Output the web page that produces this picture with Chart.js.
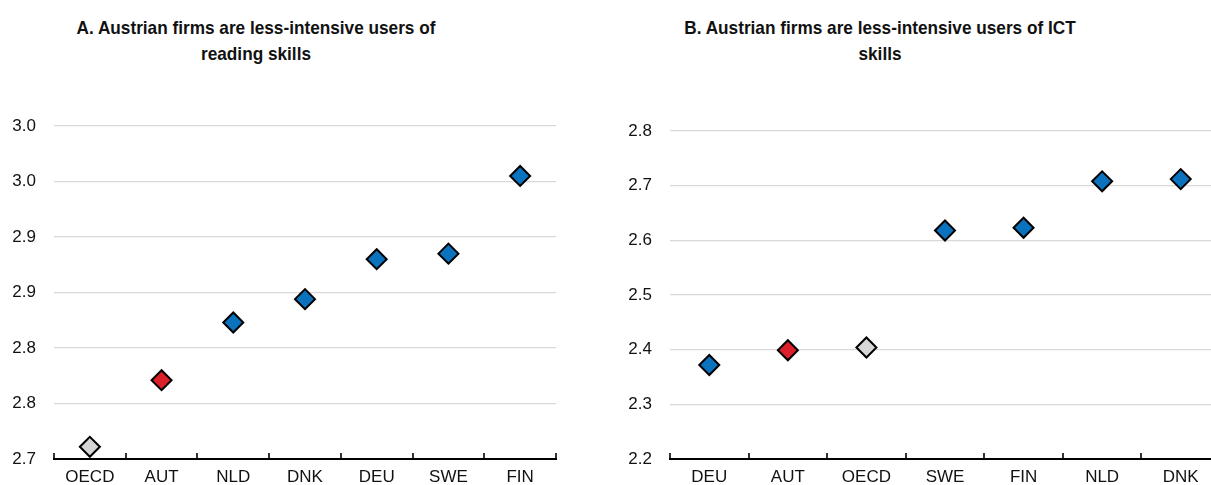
<!DOCTYPE html>
<html>
<head>
<meta charset="utf-8">
<script src="https://cdn.jsdelivr.net/npm/chart.js@4"></script>
<style>
  body { margin: 0; width: 1211px; height: 485px; overflow: hidden; background: #fff; position: relative; }
  .title {
    position: absolute; top: 15px; width: 460px;
    font-family: 'Liberation Sans', Arial, sans-serif;
    font-weight: bold; font-size: 18.5px; line-height: 26px; text-align: center; color: #111;
    transform: scaleX(0.93); transform-origin: center top;
  }
  #titleA { left: 26px; }
  #titleB { left: 650px; }
  .box { position: absolute; top: 110px; height: 375px; }
  #boxA { left: 0; width: 560px; }
  #boxB { left: 600px; width: 620px; }
</style>
</head>
<body>
<div class="title" id="titleA">A. Austrian firms are less-intensive users of<br>reading skills</div>
<div class="title" id="titleB">B. Austrian firms are less-intensive users of ICT<br>skills</div>
<div class="box" id="boxA"><canvas id="chartA"></canvas></div>
<div class="box" id="boxB"><canvas id="chartB"></canvas></div>

<script>
// Panel A: reading skills
const readingCountries = ['OECD', 'AUT', 'NLD', 'DNK', 'DEU', 'SWE', 'FIN'];
const readingValues = [2.711, 2.771, 2.823, 2.844, 2.880, 2.885, 2.955];
const readingTicks = ['2.7', '2.8', '2.8', '2.9', '2.9', '3.0', '3.0'];

// Panel B: ICT skills
const ictCountries = ['DEU', 'AUT', 'OECD', 'SWE', 'FIN', 'NLD', 'DNK'];
const ictValues = [2.372, 2.399, 2.404, 2.618, 2.623, 2.708, 2.712];
const ictTicks = ['2.2', '2.3', '2.4', '2.5', '2.6', '2.7', '2.8'];

const BLUE = '#0b73bd';
const RED = '#dc1f28';
const GREY = '#d6d6d6';

function pointColour(c) {
    if (c === 'AUT') return RED;
    if (c === 'OECD') return GREY;
    return BLUE;
}

// small tick marks pointing up from the x axis, between categories
const upTicks = {
    id: 'upTicks',
    afterDraw(chart) {
        const x = chart.scales.x;
        const ctx = chart.ctx;
        const bottom = chart.chartArea.bottom;
        ctx.save();
        ctx.strokeStyle = '#000';
        ctx.lineWidth = 1.6;
        for (let i = 0; i <= x.ticks.length; i++) {
            const px = Math.round(x.getPixelForValue(i - 0.5));
            ctx.beginPath();
            ctx.moveTo(px, bottom);
            ctx.lineTo(px, bottom - 6);
            ctx.stroke();
        }
        ctx.restore();
    }
};

function makeChart(id, labels, values, yMin, yMax, step, tickLabels, padTop, padRight, yWidth) {
    return new Chart(document.getElementById(id), {
        type: 'line',
        data: {
            labels: labels,
            datasets: [{
                data: values,
                showLine: false,
                clip: false,
                pointStyle: 'rectRot',
                pointRadius: 10,
                pointHoverRadius: 10,
                pointBorderWidth: 2,
                pointHoverBorderWidth: 2,
                pointBorderColor: '#000',
                pointBackgroundColor: labels.map(pointColour),
                pointHoverBackgroundColor: labels.map(pointColour)
            }]
        },
        options: {
            responsive: true,
            maintainAspectRatio: false,
            animation: false,
            layout: {
                autoPadding: false,
                padding: { top: padTop, right: padRight, left: 0, bottom: 0 }
            },
            plugins: {
                legend: { display: false },
                tooltip: { enabled: false }
            },
            scales: {
                x: {
                    offset: true,
                    grid: { display: false, drawTicks: false },
                    border: { display: true, color: '#000', width: 2 },
                    ticks: {
                        color: '#111',
                        padding: 8,
                        font: { family: "'Liberation Sans', Arial, sans-serif", size: 17 }
                    },
                    afterFit: s => { s.height = 26; }
                },
                y: {
                    min: yMin,
                    max: yMax,
                    grid: { color: '#d9d9d9', lineWidth: 1.3, drawTicks: false },
                    border: { display: false },
                    ticks: {
                        stepSize: step,
                        color: '#111',
                        padding: 18,
                        font: { family: "'Liberation Sans', Arial, sans-serif", size: 17 },
                        callback: (v, i) => tickLabels[i]
                    },
                    afterFit: s => {
                        s.width = yWidth;
                        s.paddingTop = 0;
                        s.paddingBottom = 0;
                    }
                }
            }
        },
        plugins: [upTicks]
    });
}

makeChart('chartA', readingCountries, readingValues, 2.70, 3.00, 0.05, readingTicks, 16, 4, 54);
makeChart('chartB', ictCountries, ictValues, 2.2, 2.8, 0.1, ictTicks, 21, 0, 70);
</script>
</body>
</html>
